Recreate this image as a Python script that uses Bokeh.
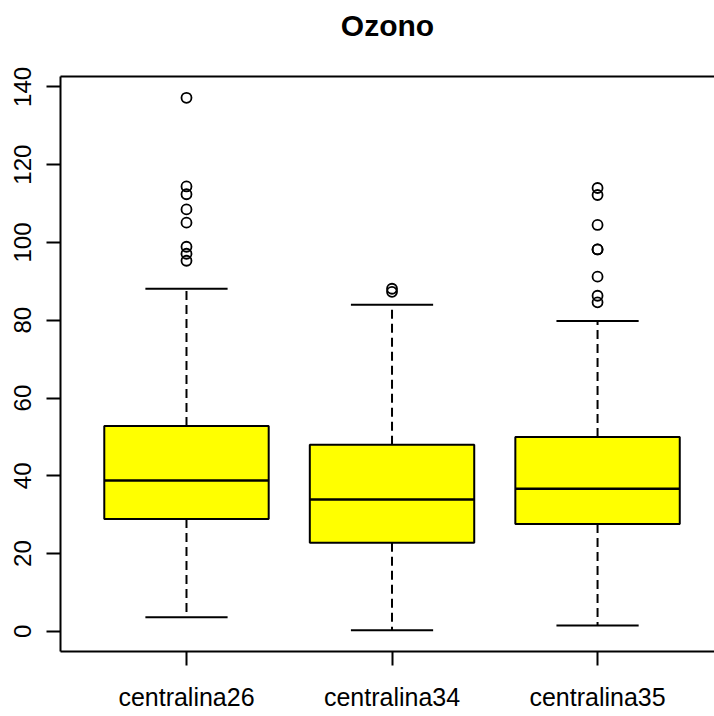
from bokeh.plotting import figure
from bokeh.models import Range1d, FixedTicker, LinearAxis, ColumnDataSource
from bokeh.embed import file_html
from bokeh.resources import INLINE

title_text = "Ozono"
categories = ["centralina26", "centralina34", "centralina35"]
whisker_low = [3.6, 0.3, 1.5]
q1 = [28.9, 22.8, 27.6]
median = [38.8, 33.9, 36.7]
q3 = [52.8, 48.0, 50.0]
whisker_high = [88.1, 84.0, 79.8]
outliers = [
    [95.3, 97.1, 98.9, 105.1, 108.5, 112.4, 114.4, 137.2],
    [87.3, 88.1],
    [84.6, 86.3, 91.2, 98.2, 98.2, 104.5, 112.2, 114.0],
]
y_ticks = [0, 20, 40, 60, 80, 100, 120, 140]

FONT = "Liberation Sans"
BOX_HALF = 0.4
CAP_HALF = 0.2

pos = [i + 1 for i in range(len(categories))]

all_vals = whisker_low + whisker_high + [v for o in outliers for v in o]
lo, hi = min(all_vals), max(all_vals)
pad = 0.04 * (hi - lo)

p = figure(width=714, height=716,
           x_range=Range1d(0.387, 3.569),
           y_range=Range1d(lo - pad, hi + pad),
           output_backend="svg", toolbar_location=None,
           min_border_left=60, min_border_right=0,
           min_border_top=76, min_border_bottom=65,
           outline_line_color=None, x_axis_type=None, y_axis_type=None)
p.grid.visible = False
p.background_fill_color = "white"
p.border_fill_color = "white"

# title (a trailing blank line lifts the title away from the frame)
p.title.text = title_text + "\n "
p.title.text_font = FONT
p.title.text_font_size = "30px"
p.title.text_font_style = "bold"
p.title.text_color = "black"
p.title.align = "center"
p.title.vertical_align = "top"
p.title.standoff = 0

def style_axis(ax):
    ax.axis_line_color = "black"
    ax.axis_line_width = 2
    ax.major_tick_line_color = "black"
    ax.major_tick_line_width = 2
    ax.major_tick_out = 14
    ax.major_tick_in = 0
    ax.minor_tick_line_color = None
    ax.major_label_text_font = FONT
    ax.major_label_text_color = "black"

yax = LinearAxis(ticker=FixedTicker(ticks=y_ticks))
style_axis(yax)
yax.major_label_text_font_size = "24px"
yax.major_label_orientation = "vertical"
yax.major_label_standoff = 15
p.add_layout(yax, "left")

xax = LinearAxis(ticker=FixedTicker(ticks=pos),
                 major_label_overrides={pp: c for pp, c in zip(pos, categories)})
style_axis(xax)
xax.major_label_text_font_size = "25px"
xax.major_label_standoff = 17
p.add_layout(xax, "below")

top_ax = LinearAxis(ticker=FixedTicker(ticks=[]))
top_ax.axis_line_color = "black"
top_ax.axis_line_width = 2
top_ax.major_tick_line_color = None
top_ax.minor_tick_line_color = None
top_ax.major_label_text_font_size = "0px"
top_ax.major_label_standoff = 0
p.add_layout(top_ax, "above")

src = ColumnDataSource(dict(
    x=pos,
    left=[x - BOX_HALF for x in pos], right=[x + BOX_HALF for x in pos],
    capl=[x - CAP_HALF for x in pos], capr=[x + CAP_HALF for x in pos],
    lo=whisker_low, q1=q1, med=median, q3=q3, hi=whisker_high,
))

# whiskers
p.segment(x0="x", y0="q3", x1="x", y1="hi", source=src, line_color="black",
          line_width=2, line_dash="9 5")
p.segment(x0="x", y0="q1", x1="x", y1="lo", source=src, line_color="black",
          line_width=2, line_dash="9 5")
# caps
p.segment(x0="capl", y0="hi", x1="capr", y1="hi", source=src, line_color="black", line_width=2)
p.segment(x0="capl", y0="lo", x1="capr", y1="lo", source=src, line_color="black", line_width=2)
# boxes
p.quad(left="left", right="right", bottom="q1", top="q3", source=src,
       fill_color="#FFFF00", line_color="black", line_width=2)
# medians
p.segment(x0="left", y0="med", x1="right", y1="med", source=src, line_color="black", line_width=2.5)

# outliers
ox, oy = [], []
for x, o in zip(pos, outliers):
    ox += [x] * len(o)
    oy += o
p.scatter(ox, oy, marker="circle", size=10, fill_color=None, line_color="black", line_width=1.8)

open("out.html", "w").write(file_html(p, INLINE))
